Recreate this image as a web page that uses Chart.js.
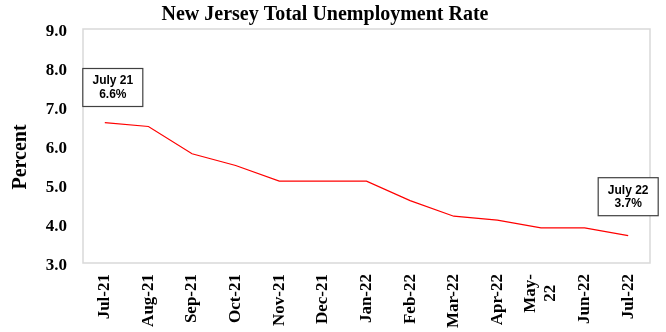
<!DOCTYPE html>
<html>
<head>
<meta charset="utf-8">
<script src="https://cdn.jsdelivr.net/npm/chart.js@4"></script>
<style>
  html,body{margin:0;padding:0;background:#fff;}
  #wrap{width:666px;height:332px;position:relative;}
</style>
</head>
<body>
<div id="wrap"><canvas id="njChart"></canvas></div>
<script>
// data
const months = ['Jul-21','Aug-21','Sep-21','Oct-21','Nov-21','Dec-21','Jan-22','Feb-22','Mar-22','Apr-22',['May-','22'],'Jun-22','Jul-22'];
const rate = [6.6, 6.5, 5.8, 5.5, 5.1, 5.1, 5.1, 4.6, 4.2, 4.1, 3.9, 3.9, 3.7];
const yTicks = [3, 4, 5, 6, 7, 8, 9];

// callout boxes
const noteIndex = [0, 12];
const noteNames = ['July 21', 'July 22'];
const noteLevel = [7.5, 4.7];

const serif = '"Liberation Serif", "Times New Roman", serif';
const sans = '"Liberation Sans", Arial, sans-serif';

// plot border, rotated month labels, y title and callouts
const extras = {
  id: 'extras',
  beforeDatasetsDraw(chart){
    const {ctx, chartArea:a} = chart;
    ctx.save();
    ctx.strokeStyle = '#d9d9d9';
    ctx.lineWidth = 1.5;
    ctx.strokeRect(a.left, a.top, a.right - a.left, a.bottom - a.top);
    ctx.restore();
  },
  afterDatasetsDraw(chart){
    const {ctx, chartArea:a} = chart;
    const xs = chart.scales.x, ys = chart.scales.y;

    // month labels, read bottom-to-top, multi-line ones centred on the tick
    ctx.save();
    ctx.font = 'bold 17px ' + serif;
    ctx.fillStyle = '#000';
    ctx.textBaseline = 'middle';
    ctx.textAlign = 'center';
    months.forEach((m, i) => {
      const lines = Array.isArray(m) ? m : [m];
      const wMax = Math.max(...lines.map(l => ctx.measureText(l).width));
      const x = xs.getPixelForTick(i);
      const lh = 20;
      ctx.save();
      ctx.translate(x, a.bottom + 11 + wMax/2);
      ctx.rotate(-Math.PI/2);
      lines.forEach((l, j) => {
        ctx.fillText(l, 0, (j - (lines.length - 1)/2) * lh);
      });
      ctx.restore();
    });
    ctx.restore();

    // y axis title
    ctx.save();
    ctx.translate(21, 157);
    ctx.rotate(-Math.PI/2);
    ctx.font = 'bold 20px ' + serif;
    ctx.fillStyle = '#000';
    ctx.textAlign = 'center';
    ctx.textBaseline = 'middle';
    ctx.fillText('Percent', 0, 0);
    ctx.restore();

    noteIndex.forEach((idx, i) => {
      const dx = i === 0 ? 8 : 0;
      const cx = xs.getPixelForValue(idx) + dx;
      const cy = ys.getPixelForValue(noteLevel[i]);
      const w = 60, h = 38;
      ctx.save();
      ctx.fillStyle = '#fff';
      ctx.fillRect(cx - w/2, cy - h/2, w, h);
      ctx.strokeStyle = '#404040';
      ctx.lineWidth = 1.2;
      ctx.strokeRect(cx - w/2, cy - h/2, w, h);
      ctx.fillStyle = '#000';
      ctx.font = 'bold 12px ' + sans;
      ctx.textAlign = 'center';
      ctx.textBaseline = 'middle';
      ctx.fillText(noteNames[i], cx, cy - 6.5);
      ctx.fillText(rate[idx].toFixed(1) + '%', cx, cy + 7);
      ctx.restore();
    });
  }
};

new Chart(document.getElementById('njChart'), {
  type: 'line',
  data: {
    labels: months,
    datasets: [{
      label: 'Unemployment rate',
      data: rate,
      borderColor: '#ff0000',
      borderWidth: 1.2,
      pointRadius: 0,
      tension: 0,
      fill: false
    }]
  },
  options: {
    responsive: true,
    maintainAspectRatio: false,
    animation: false,
    layout: {padding: {left: 0, right: 16, top: 0, bottom: 0}},
    plugins: {
      legend: {display: false},
      tooltip: {enabled: false},
      title: {
        display: true,
        text: 'New Jersey Total Unemployment Rate',
        color: '#000',
        font: {family: serif, size: 20, weight: 'bold'},
        padding: {top: 3, bottom: 2}
      }
    },
    scales: {
      x: {
        offset: true,
        grid: {display: false, drawTicks: false},
        border: {display: false},
        ticks: {display: false, autoSkip: false},
        afterFit(scale){ scale.height = 69; }
      },
      y: {
        min: 3,
        max: 9,
        grid: {display: false, drawTicks: false},
        border: {display: false},
        afterBuildTicks(scale){ scale.ticks = yTicks.map(v => ({value: v})); },
        ticks: {
          padding: 16,
          labelOffset: 3,
          color: '#000',
          font: {family: serif, size: 17, weight: 'bold'},
          callback: v => Number(v).toFixed(1)
        },
        afterFit(scale){ scale.width = 83; }
      }
    }
  },
  plugins: [extras]
});
</script>
</body>
</html>
